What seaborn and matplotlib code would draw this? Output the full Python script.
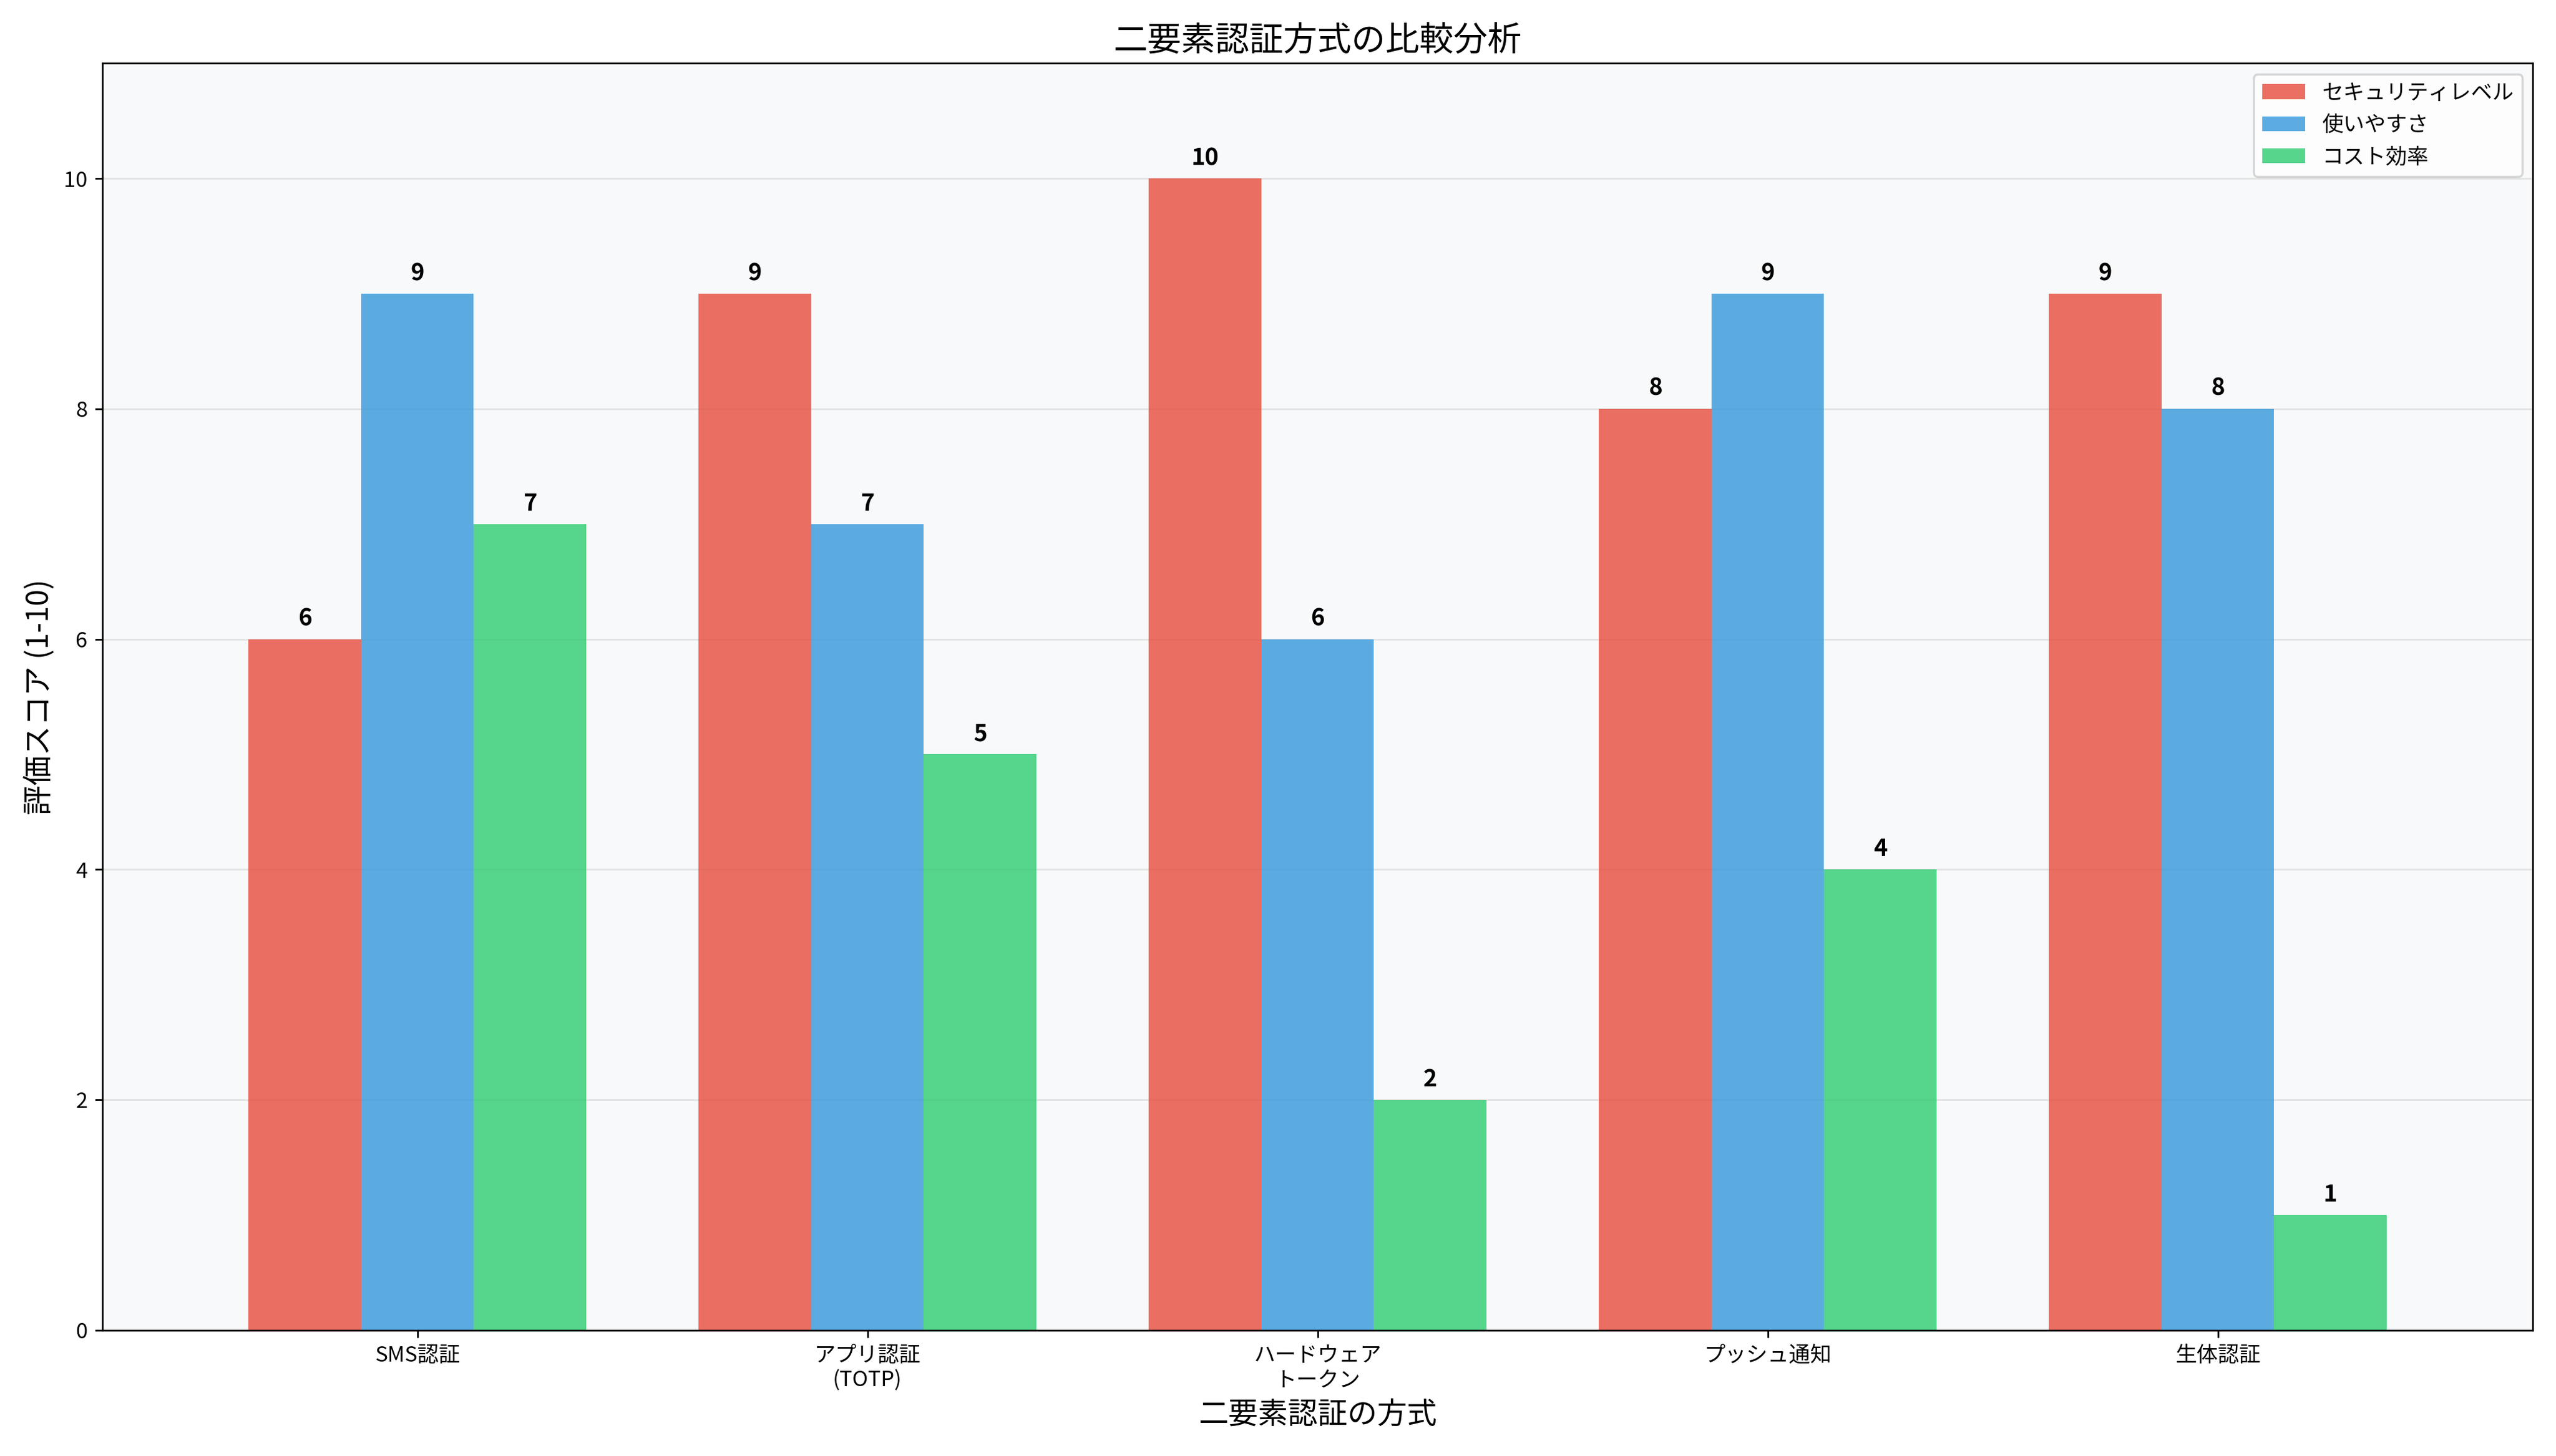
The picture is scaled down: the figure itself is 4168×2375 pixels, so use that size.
import matplotlib
matplotlib.use("Agg")
import matplotlib.pyplot as plt
import seaborn as sns
import pandas as pd

plt.rcParams['font.family'] = 'Noto Sans CJK JP'

methods = ['SMS認証', 'アプリ認証\n(TOTP)', 'ハードウェア\nトークン', 'プッシュ通知', '生体認証']
series = ['セキュリティレベル', '使いやすさ', 'コスト効率']
security = [6, 9, 10, 8, 9]
usability = [9, 7, 6, 9, 8]
cost = [7, 5, 2, 4, 1]
colors = ['#e74c3c', '#3498db', '#2ecc71']

rows = []
for name, vals in zip(series, [security, usability, cost]):
    for m, v in zip(methods, vals):
        rows.append({'方式': m, '指標': name, 'スコア': v})
df = pd.DataFrame(rows)

fig, ax = plt.subplots(figsize=(16.672, 9.5))
ax.set_facecolor('#f8f9fa')
sns.barplot(data=df, x='方式', y='スコア', hue='指標', palette=colors,
            width=0.75, alpha=0.8, saturation=1, ax=ax)

for c in ax.containers:
    ax.bar_label(c, fmt='%d', padding=4, fontweight='bold', fontsize=11)

ax.set_ylim(0, 11)
ax.set_xlim(-0.7, 4.7)
ax.set_title('二要素認証方式の比較分析', fontsize=16)
ax.set_xlabel('二要素認証の方式', fontsize=14)
ax.set_ylabel('評価スコア (1-10)', fontsize=14)
ax.grid(axis='y', alpha=0.3)
ax.set_axisbelow(True)
ax.legend(loc='upper right', fontsize=10)
plt.tight_layout()
plt.savefig('out.png', dpi=250)
